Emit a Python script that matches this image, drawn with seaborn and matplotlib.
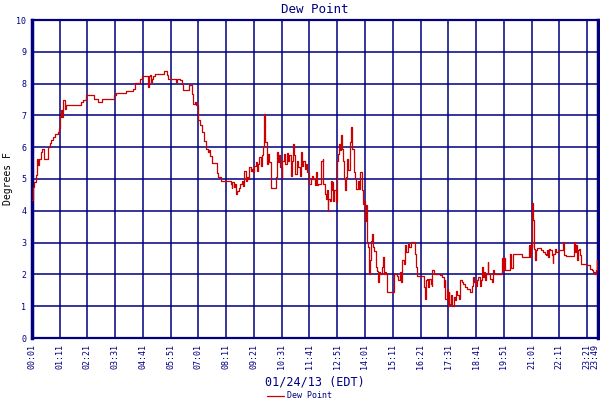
import numpy as np
import pandas as pd
import seaborn as sns
import matplotlib
matplotlib.use('Agg')
import matplotlib.pyplot as plt
import matplotlib.transforms as mtransforms

# minutes after midnight, 01/24/13 (EDT)
minutes = [
    1, 3, 7, 11, 14, 17, 19, 23, 27, 31, 42, 46, 50, 54, 60, 66, 70, 73, 75, 77,
    80, 84, 88, 126, 131, 138, 157, 168, 179, 207, 213, 238,
    257, 261, 273, 279, 294, 296, 299, 301, 305, 307, 311, 335, 343, 345, 364, 367,
    374, 379, 383, 398, 404, 408, 412, 415, 419, 425, 431, 435, 440, 444, 448, 451,
    456, 467, 471, 478,
    480, 502, 505, 507, 511, 513, 516, 519, 524, 527, 531, 534, 537, 541, 544, 547,
    549, 553, 555, 559, 562, 566, 570, 572, 575, 578, 581, 585, 587, 589, 593, 596,
    600, 603, 605, 614, 616, 618, 622, 625, 628, 631, 633, 637, 640, 644, 647, 650,
    654, 656, 659, 662, 665, 669, 672, 676, 679, 682, 686, 689, 692, 696, 699, 701,
    704, 707, 711, 714, 718, 721,
    722, 730, 734, 736, 739, 742, 744, 747, 749, 752, 755, 757, 759, 761, 764, 767,
    770, 772, 776, 778, 780, 782, 786, 789, 791, 792, 796, 799, 802, 805, 807, 809,
    813, 816, 819, 823, 826, 829, 833, 836, 839, 841, 843, 845, 848, 851, 854, 856,
    859, 861, 865, 868, 871, 875, 877, 880, 883, 886, 888, 892, 895, 897, 915, 921,
    925, 929, 932, 935, 939, 942, 945, 949, 952, 957, 966,
    967, 970, 973, 990, 993, 995, 998, 1001, 1003, 1007, 1009, 1011, 1014, 1029, 1035, 1039,
    1042, 1044, 1047, 1050, 1052, 1054, 1057, 1060, 1066, 1068, 1071, 1074, 1077, 1081, 1085, 1089,
    1093, 1098, 1102, 1106, 1110, 1113, 1116, 1120, 1123, 1127, 1130, 1133, 1136, 1138, 1141, 1144,
    1146, 1150, 1152, 1157, 1161, 1163, 1167, 1186, 1188, 1192, 1194, 1199,
    1206, 1208, 1215, 1238, 1255, 1257, 1259, 1262, 1263, 1265, 1267, 1268, 1270, 1272, 1274, 1285,
    1289, 1294, 1297, 1300, 1302, 1305, 1308, 1312, 1314, 1316, 1319, 1322, 1327, 1331, 1339, 1344,
    1347, 1368, 1371, 1374, 1375, 1378, 1381, 1384, 1386, 1402, 1409, 1413, 1417, 1420, 1423, 1425,
    1427, 1429,
]

dew_point = [
    4.34, 4.75, 4.9, 5.12, 5.64, 5.43, 5.64, 5.85, 5.93, 5.64, 6.01, 6.12, 6.22, 6.33, 6.43, 6.48, 6.59, 6.95, 7.16, 6.95,
    7.5, 7.21, 7.32, 7.42, 7.5, 7.63, 7.53, 7.42, 7.53, 7.63, 7.72, 7.78,
    7.84, 8.02, 8.16, 8.24, 7.9, 8.24, 8.26, 8.05, 8.16, 8.24, 8.31, 8.4, 8.26, 8.13, 8.05, 8.13,
    8.1, 8.0, 7.81, 7.95, 7.68, 7.37, 7.42, 7.32, 6.85, 6.69, 6.48, 6.21, 5.95, 5.84, 5.91, 5.73,
    5.49, 5.2, 5.05, 4.93,
    4.93, 4.84, 4.72, 4.89, 4.76, 4.84, 4.53, 4.63, 4.72, 4.84, 4.93, 4.79, 5.24, 4.95, 5.05, 5.0,
    5.37, 5.26, 5.32, 5.21, 5.42, 5.53, 5.26, 5.47, 5.68, 5.42, 5.74, 6.0, 7.03, 6.16, 5.47, 5.79,
    5.53, 5.16, 4.72, 4.72, 5.05, 5.84, 5.53, 5.74, 5.37, 5.03, 5.58, 5.79, 5.47, 5.81, 5.58, 5.74,
    5.11, 5.58, 6.1, 5.74, 5.16, 5.58, 5.37, 5.11, 5.84, 5.42, 5.58, 5.32, 5.47, 5.21, 5.14, 4.84,
    5.0, 5.11, 5.0, 4.82, 5.21, 4.82,
    4.85, 5.58, 5.64, 4.85, 4.53, 4.38, 4.64, 4.0, 4.38, 4.32, 4.95, 4.64, 4.9, 4.32, 4.64, 4.27,
    5.58, 5.79, 6.1, 5.9, 6.37, 5.95, 5.58, 5.0, 4.64, 5.06, 5.64, 5.27, 6.16, 6.21, 6.63, 5.95,
    5.22, 5.0, 4.69, 4.95, 4.69, 5.22, 4.64, 4.22, 4.32, 3.69, 4.17, 3.01, 2.86, 2.02, 2.44, 3.06,
    3.27, 2.86, 2.75, 2.23, 2.12, 1.75, 2.07, 2.02, 2.23, 2.54, 2.02, 2.07, 2.02, 1.44, 2.02, 1.96,
    1.81, 2.07, 1.75, 2.44, 2.33, 2.91, 2.7, 2.96, 2.86, 3.01, 2.8,
    2.65, 2.23, 1.94, 1.6, 1.23, 1.81, 1.86, 1.6, 1.86, 1.7, 1.65, 2.13, 2.02, 1.97, 1.92, 1.6,
    1.81, 1.23, 1.55, 1.02, 1.44, 1.07, 1.34, 1.02, 1.28, 1.18, 1.49, 1.34, 1.23, 1.81, 1.76, 1.7,
    1.6, 1.55, 1.53, 1.44, 1.65, 1.92, 1.76, 1.65, 1.81, 1.92, 1.65, 1.81, 2.23, 1.92, 2.08, 1.81,
    2.02, 2.39, 2.02, 1.86, 1.76, 2.13, 2.02, 2.53, 2.13, 2.53, 2.15, 2.13,
    2.65, 2.21, 2.63, 2.55, 2.92, 2.55, 2.97, 2.86, 4.23, 3.71, 2.86, 2.81, 2.44, 2.76, 2.84, 2.76,
    2.71, 2.65, 2.6, 2.76, 2.55, 2.81, 2.76, 2.6, 2.36, 2.63, 2.81, 2.71, 2.74, 2.76, 3.02, 2.6,
    2.57, 3.02, 2.71, 2.92, 2.44, 2.76, 2.81, 2.6, 2.34, 2.28, 2.18, 2.13, 2.07, 2.0, 2.13, 2.44,
    2.18, 1.97,
]

tick_minutes = [1, 71, 141, 211, 281, 351, 421, 491, 561, 631, 701, 771, 841, 911,
                981, 1051, 1121, 1191, 1261, 1331, 1401, 1429]
tick_labels = ['00:01', '01:11', '02:21', '03:31', '04:41', '05:51', '07:01', '08:11',
               '09:21', '10:31', '11:41', '12:51', '14:01', '15:11', '16:21', '17:31',
               '18:41', '19:51', '21:01', '22:11', '23:21', '23:49']
y_ticks = list(range(0, 11))

navy = '#000080'
red = '#cc0000'

sns.set_style('white')
plt.rcParams['font.family'] = ['DejaVu Sans Mono', 'DejaVu Sans']

df = pd.DataFrame({'minute': minutes, 'dew': dew_point})

fig = plt.figure(figsize=(6, 4), dpi=100)
ax = fig.add_axes([0.053, 0.155, 0.944, 0.795])

sns.lineplot(data=df, x='minute', y='dew', ax=ax, color=red, linewidth=0.9,
             drawstyle='steps-post', label='Dew Point', zorder=3)

ax.set_xlim(1, 1429)
ax.set_ylim(0, 10)
ax.set_xticks(tick_minutes)
ax.set_xticklabels(tick_labels, rotation=90, fontsize=6, color=navy)
ax.set_yticks(y_ticks)
ax.set_yticklabels([str(v) for v in y_ticks], fontsize=6, color=navy)
ax.tick_params(length=0, pad=4)
# nudge the last label left a little so it stays on the canvas
last = ax.get_xticklabels()[-1]
last.set_transform(last.get_transform() +
                   mtransforms.ScaledTranslation(-2.5 / 72, 0, fig.dpi_scale_trans))

ax.grid(True, color=navy, linewidth=1.1)
ax.set_axisbelow(True)
for side, lw in [('left', 2.5), ('right', 2.5), ('top', 1.6), ('bottom', 1.6)]:
    ax.spines[side].set_visible(True)
    ax.spines[side].set_color(navy)
    ax.spines[side].set_linewidth(lw)

ax.set_title('Dew Point', fontsize=9, color=navy, pad=5)
ax.set_xlabel('01/24/13 (EDT)', fontsize=8.5, color=navy, labelpad=5)
ax.set_ylabel('Degrees F', fontsize=7, color='black', labelpad=2)

handles, labels = ax.get_legend_handles_labels()
ax.get_legend().remove()
fig.legend(handles, labels, loc='lower center', bbox_to_anchor=(0.5, -0.02),
           frameon=False, fontsize=6, handlelength=2, handletextpad=0.4,
           labelcolor=navy)

fig.savefig('out.png', dpi=100)
